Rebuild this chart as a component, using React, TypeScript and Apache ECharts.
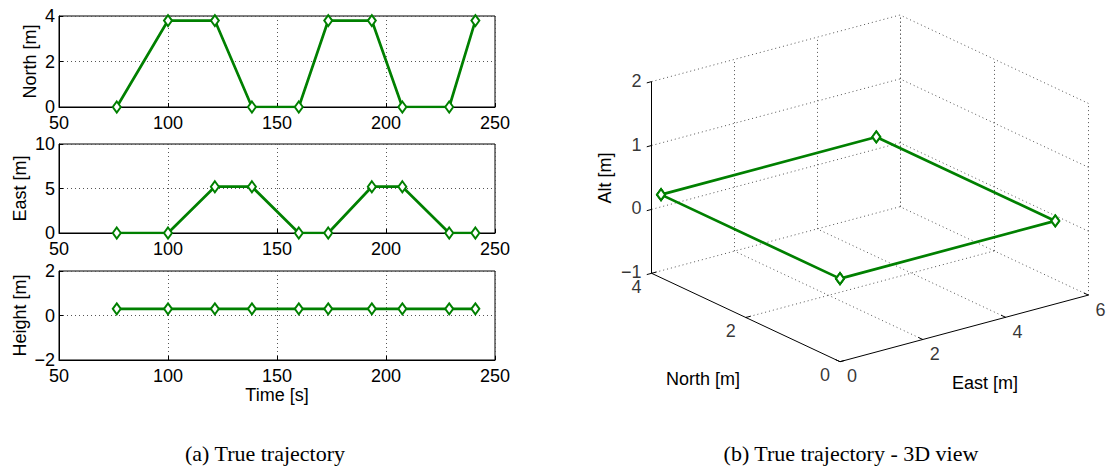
import React, { useEffect, useRef } from "react";
import * as echarts from "echarts";

// ---------- data ----------
const TIME = [76.5, 100, 121.5, 138.5, 160, 173.5, 193.5, 207.5, 229, 241];
const NORTH = [0, 3.8, 3.8, 0, 0, 3.8, 3.8, 0, 0, 3.8];
const EAST = [0, 0, 5.2, 5.2, 0, 0, 5.2, 5.2, 0, 0];
const HEIGHT = [0.3, 0.3, 0.3, 0.3, 0.3, 0.3, 0.3, 0.3, 0.3, 0.3];

const N_TICKS = [0, 2, 4];
const E_TICKS = [0, 2, 4, 6];
const ALT_TICKS = [-1, 0, 1, 2];

const CAPTION_A = "(a) True trajectory";
const CAPTION_B = "(b) True trajectory - 3D view";

// ---------- style / layout ----------
const GREEN = "#008000";
const FONT = "'Liberation Sans', Arial, Helvetica, sans-serif";
const SERIF = "'Liberation Serif', 'Times New Roman', serif";
const GRID_COLOR = "#555";
const DOT: number[] = [1, 3];

// 3D projection (orthographic, affine): origin is (N=min,E=min,Alt=min)
const O = [840, 361.7];
const VN = [-47.1, -22.1];
const VE = [41.4, -11.1];
const VZ = -63.9;
const N_MIN = Math.min(...N_TICKS), N_MAX = Math.max(...N_TICKS);
const E_MIN = Math.min(...E_TICKS), E_MAX = Math.max(...E_TICKS);
const A_MIN = Math.min(...ALT_TICKS), A_MAX = Math.max(...ALT_TICKS);

function proj(n: number, e: number, z: number): number[] {
  return [
    O[0] + (n - N_MIN) * VN[0] + (e - E_MIN) * VE[0],
    O[1] + (n - N_MIN) * VN[1] + (e - E_MIN) * VE[1] + (z - A_MIN) * VZ,
  ];
}
function unit(v: number[]) {
  const l = Math.hypot(v[0], v[1]);
  return [v[0] / l, v[1] / l];
}
function fmtMinus(v: number | string) {
  return String(v).replace("-", "\u2212");
}

const App = () => {
  const ref = useRef<HTMLDivElement>(null);
  useEffect(() => {
    if (!ref.current) return;
    const chart = echarts.init(ref.current, null, { renderer: "svg" });

    const GRIDS = [
      { left: 59, top: 16, width: 436, height: 91 },
      { left: 59, top: 144, width: 436, height: 89 },
      { left: 59, top: 271, width: 436, height: 89 },
    ];
    const Y_AXES = [
      { min: 0, max: 4, interval: 2, name: "North [m]", gap: 20, values: NORTH },
      { min: 0, max: 10, interval: 5, name: "East [m]", gap: 30, values: EAST },
      { min: -2, max: 2, interval: 2, name: "Height [m]", gap: 30, values: HEIGHT },
    ];

    const textStyle = { fontFamily: FONT, fontSize: 18, color: "#000" };

    const grids: any[] = GRIDS.map((g) => ({
      ...g,
      show: true,
      borderColor: "#000",
      borderWidth: 1,
      containLabel: false,
    }));
    grids.push({ left: 0, top: 0, right: 0, bottom: 0, show: false });

    const xAxes: any[] = GRIDS.map((_, i) => ({
      type: "value",
      gridIndex: i,
      min: 50,
      max: 250,
      interval: 50,
      name: i === 2 ? "Time [s]" : "",
      nameLocation: "middle",
      nameGap: 26,
      nameTextStyle: textStyle,
      axisLine: { show: true, onZero: false, lineStyle: { color: "#000", width: 1 } },
      axisTick: { show: true, inside: true, length: 4, lineStyle: { color: "#000" } },
      axisLabel: { ...textStyle, margin: 7 },
      splitLine: { show: true, lineStyle: { color: GRID_COLOR, type: DOT, width: 1 } },
    }));
    xAxes.push({ type: "value", gridIndex: 3, min: 0, max: 1106, show: false });

    const yAxes: any[] = Y_AXES.map((a, i) => ({
      type: "value",
      gridIndex: i,
      min: a.min,
      max: a.max,
      interval: a.interval,
      name: a.name,
      nameLocation: "middle",
      nameRotate: 90,
      nameGap: a.gap,
      nameTextStyle: textStyle,
      axisLine: { show: true, onZero: false, lineStyle: { color: "#000", width: 1 } },
      axisTick: { show: true, inside: true, length: 4, lineStyle: { color: "#000" } },
      axisLabel: { ...textStyle, margin: 4, formatter: (v: number) => fmtMinus(v) },
      splitLine: { show: true, lineStyle: { color: GRID_COLOR, type: DOT, width: 1 } },
    }));
    yAxes.push({ type: "value", gridIndex: 3, min: 0, max: 468, inverse: true, show: false });

    const series: any[] = Y_AXES.map((a, i) => ({
      type: "line",
      xAxisIndex: i,
      yAxisIndex: i,
      data: TIME.map((t, k) => [t, a.values[k]]),
      lineStyle: { color: GREEN, width: 2.7 },
      symbol: "diamond",
      symbolSize: [8, 11],
      itemStyle: { color: "#fff", borderColor: GREEN, borderWidth: 2 },
      z: 5,
    }));

    // ---- 3D box: dotted grid lines ----
    const gridSegs: number[][][] = [];
    N_TICKS.filter((n) => n !== N_MIN).forEach((n) =>
      gridSegs.push([proj(n, E_MIN, A_MIN), proj(n, E_MAX, A_MIN)])
    );
    E_TICKS.filter((e) => e !== E_MIN).forEach((e) =>
      gridSegs.push([proj(N_MIN, e, A_MIN), proj(N_MAX, e, A_MIN)])
    );
    E_TICKS.filter((e) => e !== E_MIN).forEach((e) =>
      gridSegs.push([proj(N_MAX, e, A_MIN), proj(N_MAX, e, A_MAX)])
    );
    ALT_TICKS.filter((z) => z !== A_MIN).forEach((z) =>
      gridSegs.push([proj(N_MAX, E_MIN, z), proj(N_MAX, E_MAX, z)])
    );
    N_TICKS.forEach((n) => gridSegs.push([proj(n, E_MAX, A_MIN), proj(n, E_MAX, A_MAX)]));
    ALT_TICKS.filter((z) => z !== A_MIN).forEach((z) =>
      gridSegs.push([proj(N_MIN, E_MAX, z), proj(N_MAX, E_MAX, z)])
    );

    const axisSegs: number[][][] = [
      [proj(N_MAX, E_MIN, A_MIN), proj(N_MAX, E_MIN, A_MAX)],
      [proj(N_MIN, E_MIN, A_MIN), proj(N_MAX, E_MIN, A_MIN)],
      [proj(N_MIN, E_MIN, A_MIN), proj(N_MIN, E_MAX, A_MIN)],
    ];
    const TL = 5;
    const dZ = unit([-VE[0], -VE[1]]);
    const dN = unit(VE);
    const dE = unit(VN);
    ALT_TICKS.forEach((z) => {
      const p = proj(N_MAX, E_MIN, z);
      axisSegs.push([p, [p[0] + dZ[0] * TL, p[1] + dZ[1] * TL]]);
    });
    N_TICKS.forEach((n) => {
      const p = proj(n, E_MIN, A_MIN);
      axisSegs.push([p, [p[0] + dN[0] * TL, p[1] + dN[1] * TL]]);
    });
    E_TICKS.forEach((e) => {
      const p = proj(N_MIN, e, A_MIN);
      axisSegs.push([p, [p[0] + dE[0] * TL, p[1] + dE[1] * TL]]);
    });

    series.push({
      type: "lines",
      coordinateSystem: "cartesian2d",
      xAxisIndex: 3,
      yAxisIndex: 3,
      data: gridSegs.map((c) => ({ coords: c })),
      lineStyle: { color: GRID_COLOR, width: 1, type: DOT, opacity: 1 },
      silent: true,
      z: 1,
    });
    series.push({
      type: "lines",
      coordinateSystem: "cartesian2d",
      xAxisIndex: 3,
      yAxisIndex: 3,
      data: axisSegs.map((c) => ({ coords: c })),
      lineStyle: { color: "#000", width: 1, type: "solid", opacity: 1 },
      silent: true,
      z: 2,
    });

    const labelSeries = (pts: { p: number[]; t: string }[], label: any) => ({
      type: "scatter",
      xAxisIndex: 3,
      yAxisIndex: 3,
      symbolSize: 0,
      data: pts.map((o) => ({ value: o.p, name: o.t })),
      label: { show: true, formatter: (d: any) => d.name, ...textStyle, ...label },
      silent: true,
      z: 3,
    });
    series.push(
      labelSeries(
        ALT_TICKS.map((z) => ({ p: proj(N_MAX, E_MIN, z), t: fmtMinus(z) })),
        { position: "left", distance: 10, align: "right", verticalAlign: "middle", offset: [0, -1] }
      )
    );
    series.push(
      labelSeries(
        N_TICKS.map((n) => ({ p: proj(n, E_MIN, A_MIN), t: fmtMinus(n) })),
        { position: "inside", offset: [-15, 13.5] }
      )
    );
    series.push(
      labelSeries(
        E_TICKS.map((e) => ({ p: proj(N_MIN, e, A_MIN), t: fmtMinus(e) })),
        { position: "inside", offset: [12, 14.5] }
      )
    );

    series.push({
      type: "line",
      xAxisIndex: 3,
      yAxisIndex: 3,
      data: TIME.map((_, k) => proj(NORTH[k], EAST[k], HEIGHT[k])),
      lineStyle: { color: GREEN, width: 2.7 },
      symbol: "diamond",
      symbolSize: [8, 11],
      itemStyle: { color: "#fff", borderColor: GREEN, borderWidth: 2 },
      z: 5,
    });

    const graphic: any[] = [
      {
        type: "text",
        x: 703,
        y: 379,
        style: { text: "North [m]", font: `18px ${FONT}`, fill: "#000", align: "center", verticalAlign: "middle" },
      },
      {
        type: "text",
        x: 985,
        y: 383,
        style: { text: "East [m]", font: `18px ${FONT}`, fill: "#000", align: "center", verticalAlign: "middle" },
      },
      {
        type: "text",
        x: 605,
        y: 178,
        rotation: Math.PI / 2,
        style: { text: "Alt [m]", font: `18px ${FONT}`, fill: "#000", align: "center", verticalAlign: "middle" },
      },
      {
        type: "text",
        x: 265,
        y: 453,
        style: { text: CAPTION_A, font: `22px ${SERIF}`, fill: "#000", align: "center", verticalAlign: "middle" },
      },
      {
        type: "text",
        x: 851,
        y: 453,
        style: { text: CAPTION_B, font: `22px ${SERIF}`, fill: "#000", align: "center", verticalAlign: "middle" },
      },
    ];

    chart.setOption({
      animation: false,
      backgroundColor: "#fff",
      grid: grids,
      xAxis: xAxes,
      yAxis: yAxes,
      series,
      graphic,
    });
    return () => chart.dispose();
  }, []);

  return (
    <div
      ref={ref}
      style={{ position: "fixed", left: 0, top: 0, width: 1106, height: 468, background: "#fff" }}
    />
  );
};

export default App;
